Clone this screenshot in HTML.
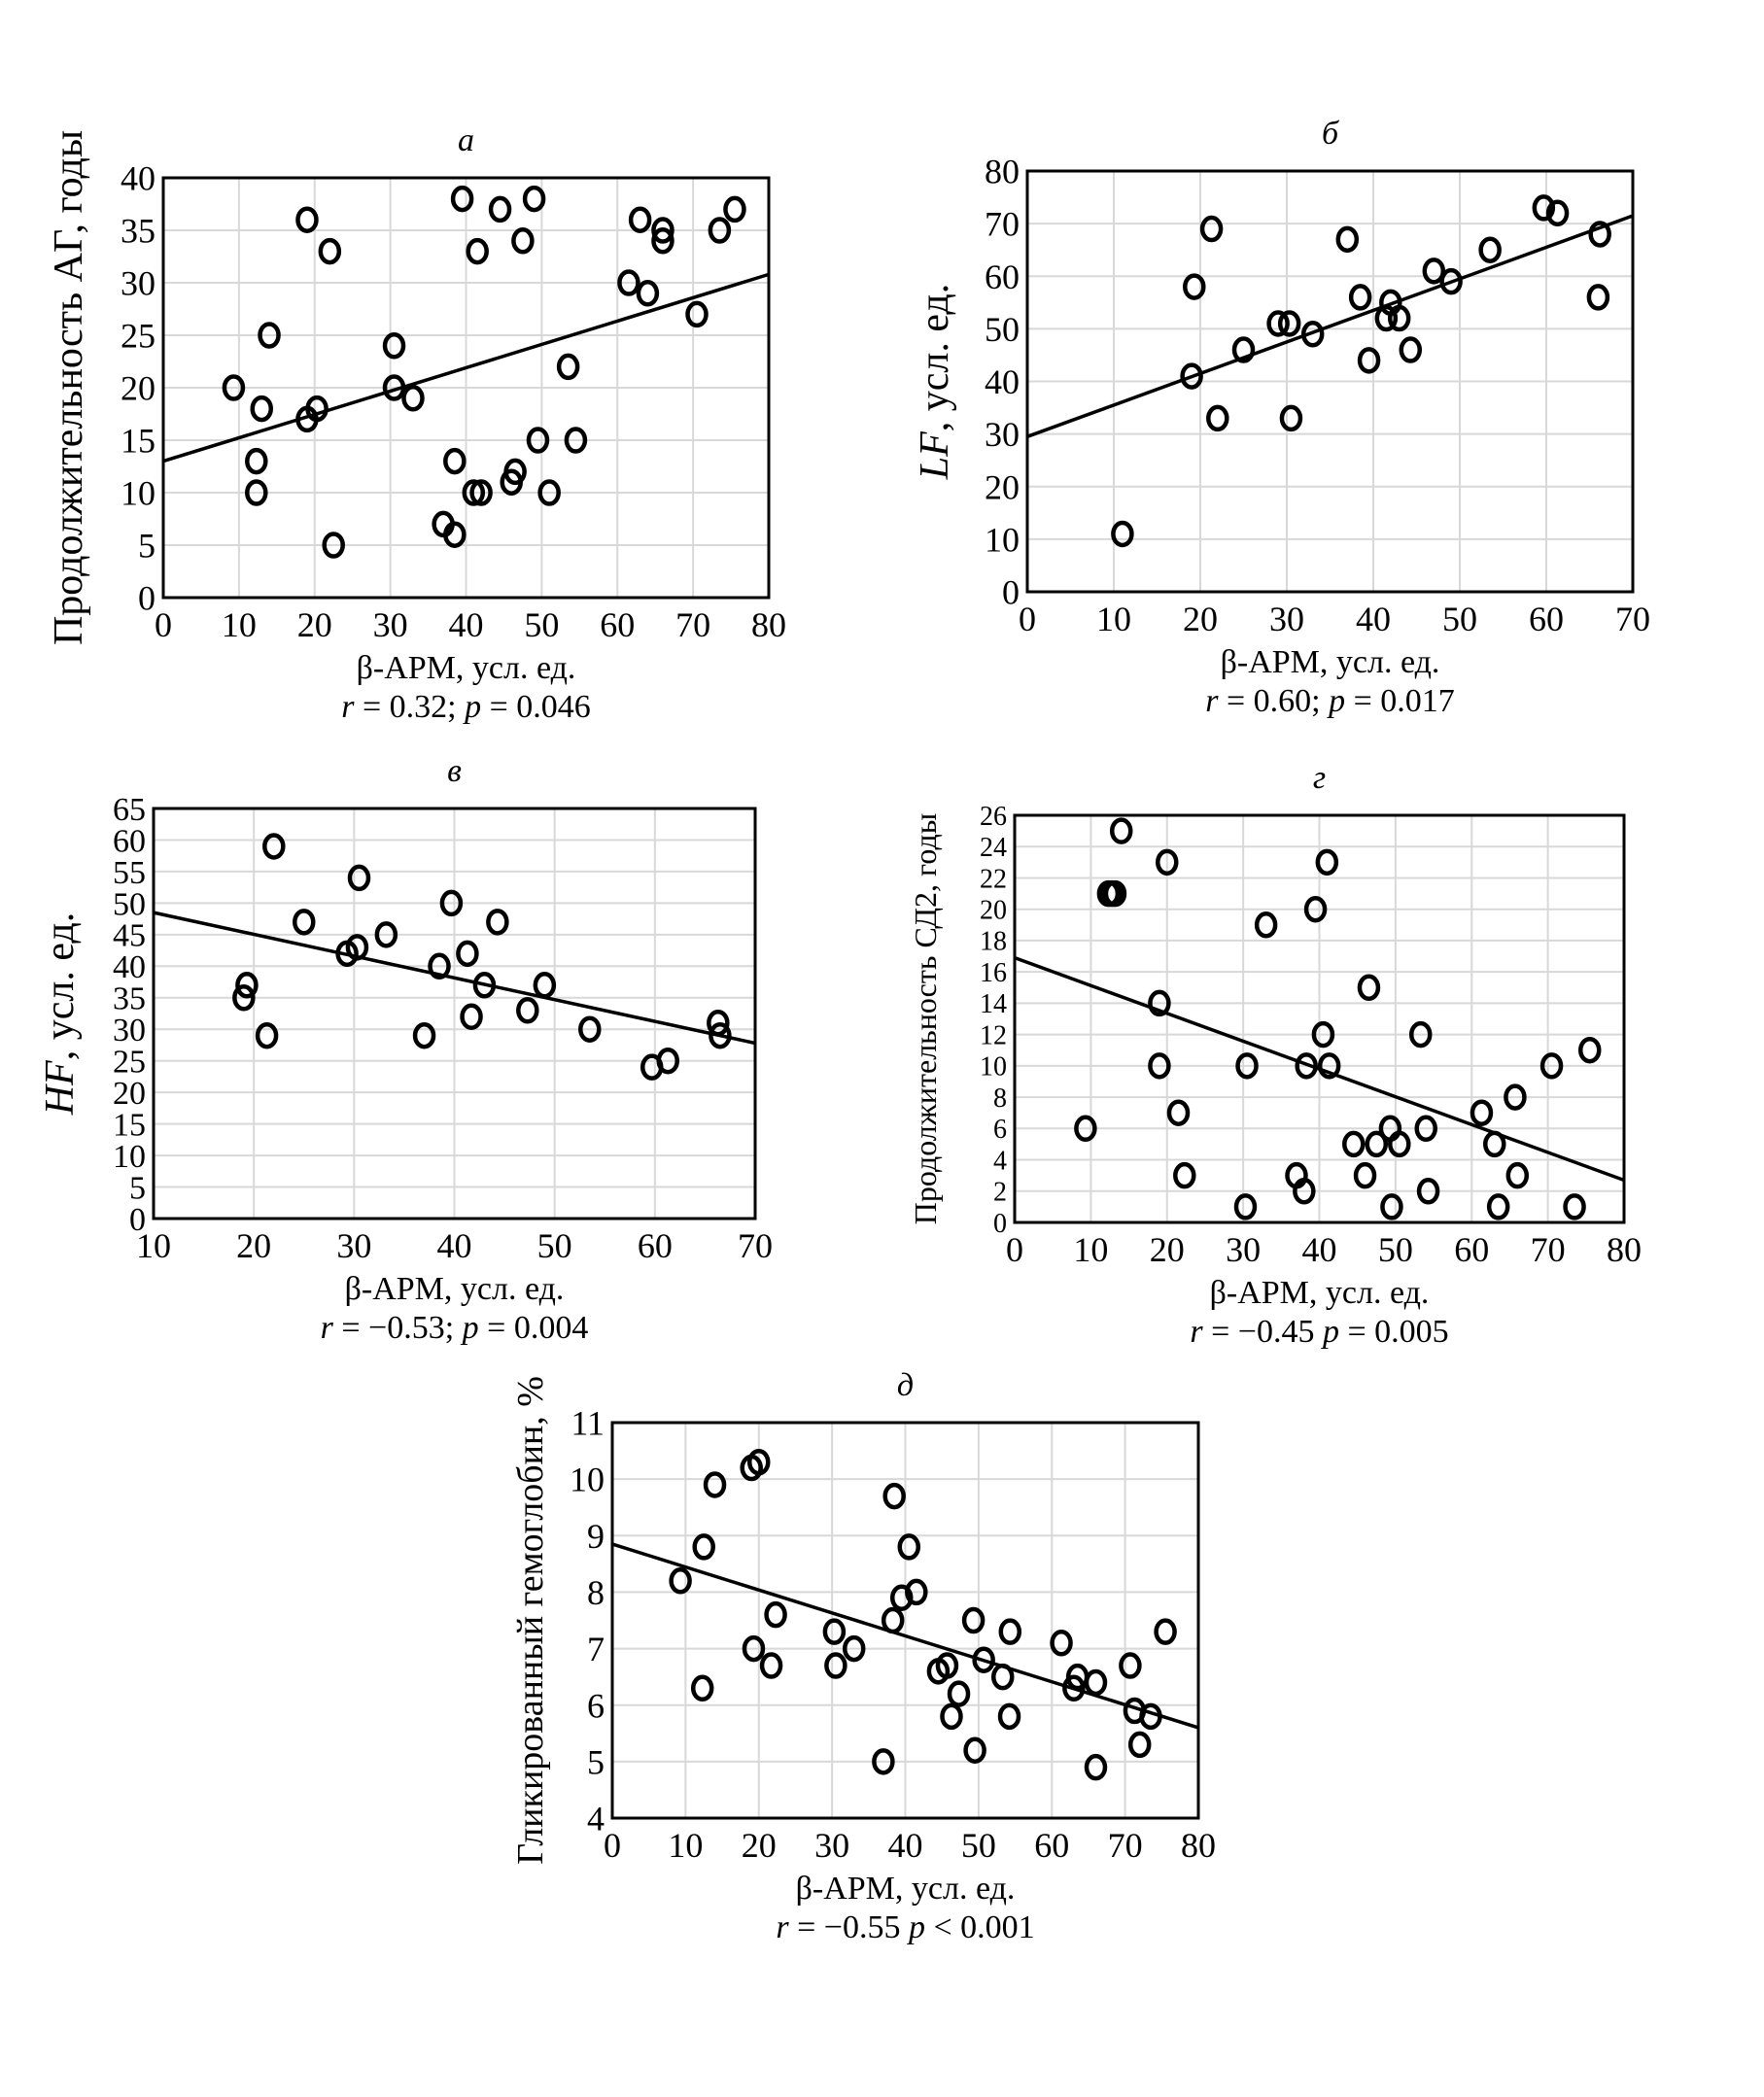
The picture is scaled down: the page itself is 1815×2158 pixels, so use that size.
<!DOCTYPE html>
<html><head><meta charset="utf-8">
<style>
html,body{margin:0;padding:0;background:#fff;}
svg{display:block;font-family:"Liberation Serif","DejaVu Serif",serif;}
</style></head>
<body>
<svg id="fig" width="1815" height="2158" viewBox="0 0 1815 2158" xmlns="http://www.w3.org/2000/svg"></svg>
<script>
// ---- Chart a ----
const aX = [9.3,12.3,12.3,13,14,19,19,20.3,22,22.5,30.5,30.5,33,37,38.5,38.5,39.5,41,42,41.5,44.5,46,46.5,47.5,49,49.5,51,53.5,54.5,61.5,63,64,66,66,70.5,73.5,75.5];
const aY = [20,13,10,18,25,36,17,18,33,5,24,20,19,7,13,6,38,10,10,33,37,11,12,34,38,15,10,22,15,30,36,29,35,34,27,35,37];
const aFit = [13,30.8];
const aXTicks = [0,10,20,30,40,50,60,70,80];
const aYTicks = [0,5,10,15,20,25,30,35,40];
// ---- Chart б ----
const bX = [11,19,19.3,21.3,22,25,29,30.3,30.5,33,37,38.5,39.5,41.5,42,43,44.3,47,49,53.5,59.7,61.3,66.2,66];
const bY = [11,41,58,69,33,46,51,51,33,49,67,56,44,52,55,52,46,61,59,65,73,72,68,56];
const bFit = [29.5,71.5];
const bXTicks = [0,10,20,30,40,50,60,70];
const bYTicks = [0,10,20,30,40,50,60,70,80];
// ---- Chart в ----
const cX = [19,19.3,21.3,22,25,29.3,30.3,30.5,33.2,37,38.5,39.7,41.3,41.7,43,44.3,47.3,49,53.5,59.7,61.3,66.3,66.5];
const cY = [35,37,29,59,47,42,43,54,45,29,40,50,42,32,37,47,33,37,30,24,25,31,29];
const cFit = [48.5,27.8];
const cXTicks = [10,20,30,40,50,60,70];
const cYTicks = [0,5,10,15,20,25,30,35,40,45,50,55,60,65];
// ---- Chart г ----
const dX = [9.3,12.3,12.8,13.2,14,19,19,20,21.5,22.3,30.3,30.5,33,37,38,38.3,39.5,40.5,41,41.3,44.5,46,46.5,47.5,49.3,49.5,50.5,54,54.3,53.3,61.3,63,63.5,65.7,66,70.5,73.5,75.5];
const dY = [6,21,21,21,25,14,10,23,7,3,1,10,19,3,2,10,20,12,23,10,5,3,15,5,6,1,5,6,2,12,7,5,1,8,3,10,1,11];
const dFit = [16.9,2.7];
const dXTicks = [0,10,20,30,40,50,60,70,80];
const dYTicks = [0,2,4,6,8,10,12,14,16,18,20,22,24,26];
// ---- Chart д ----
const eX = [9.3,12.3,12.5,14,19,19.3,20,21.7,22.3,30.3,30.5,33,37,38.3,38.5,39.5,40.5,41.5,44.5,45.7,46.3,47.3,49.3,49.5,50.7,53.3,54.2,54.3,61.3,63,63.5,66,66,70.7,71.3,72,73.5,75.5];
const eY = [8.2,6.3,8.8,9.9,10.2,7,10.3,6.7,7.6,7.3,6.7,7,5,7.5,9.7,7.9,8.8,8,6.6,6.7,5.8,6.2,7.5,5.2,6.8,6.5,5.8,7.3,7.1,6.3,6.5,6.4,4.9,6.7,5.9,5.3,5.8,7.3];
const eFit = [8.85,5.6];
const eXTicks = [0,10,20,30,40,50,60,70,80];
const eYTicks = [4,5,6,7,8,9,10,11];

const NS = "http://www.w3.org/2000/svg";
const svg = document.getElementById('fig');
function mk(tag, attrs, parent){
  const el = document.createElementNS(NS, tag);
  for (const k in attrs) el.setAttribute(k, attrs[k]);
  (parent||svg).appendChild(el);
  return el;
}
function chart(cfg){
  const g = mk('g', {});
  
  
  const xt = cfg.xTicks, yt = cfg.yTicks;
  const x0 = xt[0], x1 = xt[xt.length-1], y0 = yt[0], y1 = yt[yt.length-1];
  const sx = v => cfg.L + (v - x0) / (x1 - x0) * (cfg.R - cfg.L);
  const sy = v => cfg.B - (v - y0) / (y1 - y0) * (cfg.B - cfg.T);
  const yfs = cfg.yfs||36;
  xt.forEach(v => {
    const l = mk('line', {x1:sx(v), x2:sx(v), y1:cfg.T, y2:cfg.B, stroke:'#d8d8d8', 'stroke-width':2}, g);
    
    
    const t = mk('text', {x:sx(v), y:cfg.B + 40, 'text-anchor':'middle', 'font-size':36}, g);
    
    
    t.textContent = v;
  });
  yt.forEach(v => {
    const l = mk('line', {x1:cfg.L, x2:cfg.R, y1:sy(v), y2:sy(v), stroke:'#d8d8d8', 'stroke-width':2}, g);
    
    
    const t = mk('text', {x:cfg.L - 8, y:sy(v) + yfs*0.35, 'text-anchor':'end', 'font-size':yfs}, g);
    
    
    t.textContent = v;
  });
  const fr = mk('rect', {x:cfg.L, y:cfg.T, width:cfg.R-cfg.L, height:cfg.B-cfg.T, fill:'none', stroke:'#000', 'stroke-width':3}, g);
  
  
  const fl = mk('line', {x1:sx(x0), y1:sy(cfg.fit[0]), x2:sx(x1), y2:sy(cfg.fit[1]), stroke:'#000', 'stroke-width':3.5}, g);
  
  
  cfg.xs.forEach((v, i) => {
    const c = mk('ellipse', {cx:sx(v), cy:sy(cfg.ys[i]), rx:9.5, ry:11.5, fill:'none', stroke:'#000', 'stroke-width':4.5}, g);
    
    
  });
  const ti = mk('text', {x:(cfg.L+cfg.R)/2, y:cfg.T - 28, 'text-anchor':'middle', 'font-size':34, 'font-style':'italic'}, g);
  
  
  ti.textContent = cfg.title;
  const xl = mk('text', {x:(cfg.L+cfg.R)/2, y:cfg.B + 83, 'text-anchor':'middle', 'font-size':34}, g);
  
  
  xl.textContent = 'β-АРМ, усл. ед.';
  const st = mk('text', {x:(cfg.L+cfg.R)/2, y:cfg.B + 123, 'text-anchor':'middle', 'font-size':34}, g);
  
  
  st.innerHTML = cfg.stats;
  const yl = mk('text', {x:0, y:0, 'text-anchor':'middle', 'font-size':cfg.ylfs||40, transform:'translate('+cfg.ylx+','+((cfg.T+cfg.B)/2)+') rotate(-90)'}, g);
  
  
  yl.innerHTML = cfg.ylabel;
}
chart({id:'chart-a', L:168, R:791, T:183, B:615, xTicks:aXTicks, yTicks:aYTicks, xs:aX, ys:aY, fit:aFit, title:'а', ylx:84, ylfs:42,
  ylabel:'Продолжительность АГ, годы', stats:'<tspan font-style="italic">r</tspan> = 0.32; <tspan font-style="italic">p</tspan> = 0.046'});
chart({id:'chart-b', L:1057, R:1680, T:176, B:609, xTicks:bXTicks, yTicks:bYTicks, xs:bX, ys:bY, fit:bFit, title:'б', ylx:975, ylfs:42,
  ylabel:'<tspan font-style="italic">LF</tspan>, усл. ед.', stats:'<tspan font-style="italic">r</tspan> = 0.60; <tspan font-style="italic">p</tspan> = 0.017'});
chart({id:'chart-v', L:158, R:777, T:832, B:1254, xTicks:cXTicks, yTicks:cYTicks, xs:cX, ys:cY, fit:cFit, title:'в', ylx:75, ylfs:42, yfs:34,
  ylabel:'<tspan font-style="italic">HF</tspan>, усл. ед.', stats:'<tspan font-style="italic">r</tspan> = −0.53; <tspan font-style="italic">p</tspan> = 0.004'});
chart({id:'chart-g', L:1044, R:1671, T:839, B:1258, xTicks:dXTicks, yTicks:dYTicks, xs:dX, ys:dY, fit:dFit, title:'г', ylx:963, yfs:28, ylfs:32,
  ylabel:'Продолжительность СД2, годы', stats:'<tspan font-style="italic">r</tspan> = −0.45 <tspan font-style="italic">p</tspan> = 0.005'});
chart({id:'chart-d', L:630, R:1233, T:1464, B:1871, xTicks:eXTicks, yTicks:eYTicks, xs:eX, ys:eY, fit:eFit, title:'д', ylx:558, ylfs:38,
  ylabel:'Гликированный гемоглобин, %', stats:'<tspan font-style="italic">r</tspan> = −0.55 <tspan font-style="italic">p</tspan> &lt; 0.001'});
</script>
</body></html>
